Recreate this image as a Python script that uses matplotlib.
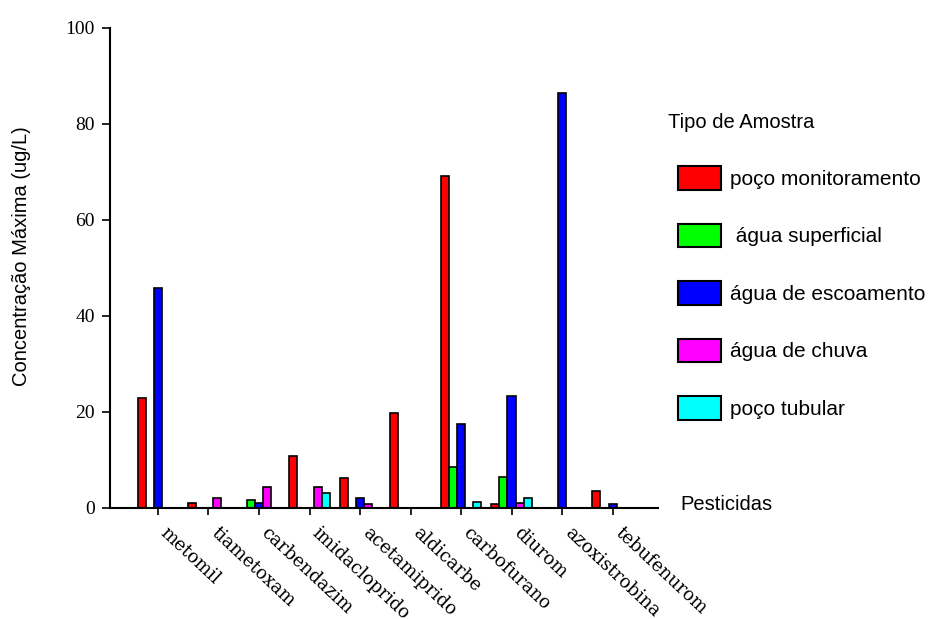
import numpy as np
import matplotlib
matplotlib.use("Agg")
import matplotlib.pyplot as plt
import matplotlib.transforms as mtransforms
from matplotlib.patches import Patch

pesticidas = ["metomil", "tiametoxam", "carbendazim", "imidacloprido",
              "acetamiprido", "aldicarbe", "carbofurano", "diurom",
              "azoxistrobina", "tebufenurom"]

# concentração máxima (ug/L) por tipo de amostra
poco_monitoramento = [22.9, 1.1, 0.0, 10.8, 6.3, 19.7, 69.2, 0.8, 0.0, 3.6]
agua_superficial = [0.0, 0.0, 1.7, 0.0, 0.0, 0.0, 8.5, 6.4, 0.0, 0.0]
agua_escoamento = [45.8, 0.0, 1.1, 0.0, 2.0, 0.0, 17.6, 23.3, 86.5, 0.8]
agua_chuva = [0.0, 2.1, 4.3, 4.3, 0.8, 0.0, 0.0, 1.1, 0.0, 0.0]
poco_tubular = [0.0, 0.0, 0.0, 3.2, 0.0, 0.0, 1.2, 2.0, 0.0, 0.0]

series = [
    ("poço monitoramento", poco_monitoramento, "#FF0000"),
    (" água superficial", agua_superficial, "#00FF00"),
    ("água de escoamento", agua_escoamento, "#0000FF"),
    ("água de chuva", agua_chuva, "#FF00FF"),
    ("poço tubular", poco_tubular, "#00FFFF"),
]

W, H = 930, 619
fig = plt.figure(figsize=(W / 100, H / 100), dpi=100)
ax = fig.add_axes([110 / W, 1 - 508 / H, 548 / W, 480 / H])

x = np.arange(len(pesticidas))
w = 0.16
for i, (nome, vals, cor) in enumerate(series):
    ax.bar(x + (i - 2) * w, vals, width=w, color=cor, edgecolor="black",
           linewidth=1.2, label=nome, zorder=2)

ax.set_xlim(-0.95, 9.9)
ax.set_ylim(0, 100)
ax.set_yticks([0, 20, 40, 60, 80, 100])
ax.set_yticklabels(["0", "20", "40", "60", "80", "100"],
                   fontfamily="Liberation Serif", fontsize=14)
ax.set_xticks(x)
ax.set_xticklabels([])

# nomes dos pesticidas inclinados logo à direita de cada marca
trans = ax.get_xaxis_transform() + mtransforms.ScaledTranslation(
    5 / 100, -22 / 100, fig.dpi_scale_trans)
for i, nome in enumerate(pesticidas):
    ax.text(x[i], 0, nome, transform=trans, rotation=-43,
            rotation_mode="anchor", ha="left", va="center",
            fontfamily="DejaVu Serif", fontsize=13, clip_on=False)

ax.tick_params(axis="y", length=6, width=1.2, pad=5)
ax.tick_params(axis="x", length=5, width=1.2)
for s in ["top", "right"]:
    ax.spines[s].set_visible(False)
for s in ["left", "bottom"]:
    ax.spines[s].set_linewidth(1.5)

fig.text(22 / W, 1 - 256 / H, "Concentração Máxima (ug/L)",
         rotation=90, ha="center", va="center",
         fontfamily="Liberation Sans", fontsize=14.5)
fig.text(668 / W, 1 - 123 / H, "Tipo de Amostra", ha="left", va="center",
         fontfamily="Liberation Sans", fontsize=14.5)
fig.text(680 / W, 1 - 505 / H, "Pesticidas", ha="left", va="center",
         fontfamily="Liberation Sans", fontsize=14.5)

handles = [Patch(facecolor=c, edgecolor="black", linewidth=1.5, label=n)
           for n, _, c in series]
fig.legend(handles=handles, loc="upper left",
           bbox_to_anchor=(678 / W, 1 - 166 / H), frameon=False,
           prop={"family": "Liberation Sans", "size": 15},
           handlelength=2.05, handleheight=1.38, handletextpad=0.45,
           labelspacing=1.62, borderpad=0, borderaxespad=0)

fig.savefig("out.png", dpi=100)
